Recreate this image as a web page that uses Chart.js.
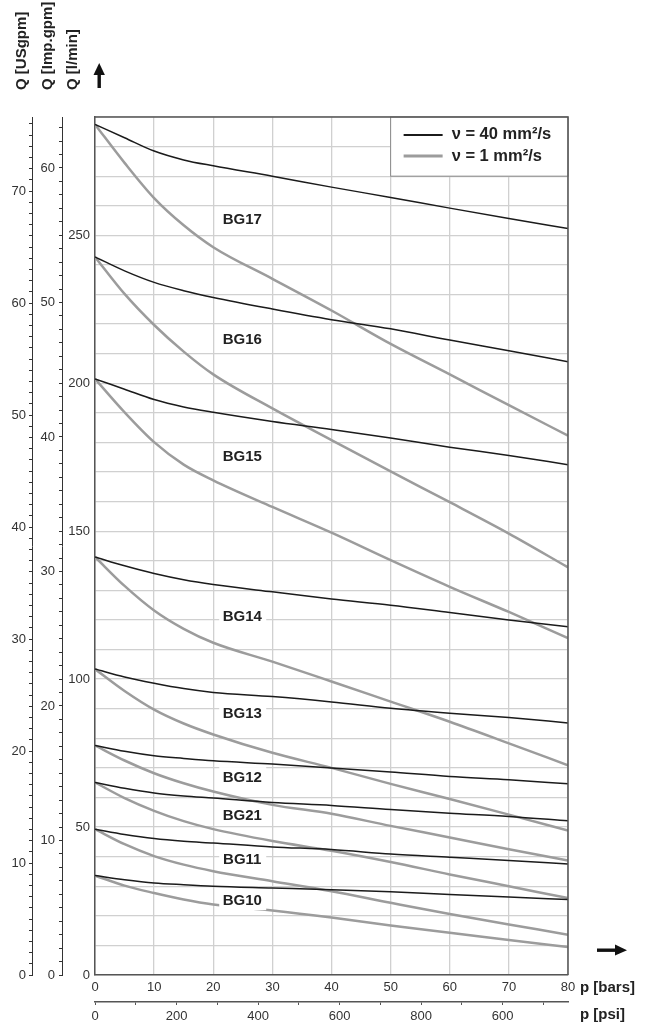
<!DOCTYPE html>
<html>
<head>
<meta charset="utf-8">
<script src="https://cdn.jsdelivr.net/npm/chart.js@4.4.0/dist/chart.umd.min.js"></script>
<style>
  html, body { margin: 0; padding: 0; background: #fff; }
  #wrap { width: 664px; height: 1029px; position: relative; }
</style>
</head>
<body>
<div id="wrap"><canvas id="c"></canvas></div>
<script>
// pressure points in bar, flow in l/min
const pressure = [0, 5, 10, 15, 20, 30, 40, 50, 60, 70, 80];

// v = 40 mm2/s (black)
const bg17Thick = [287.5, 283.0, 278.5, 275.5, 273.5, 270.0, 266.3, 262.8, 259.2, 255.7, 252.3];
const bg16Thick = [242.7, 238.0, 234.1, 231.3, 229.0, 225.1, 221.5, 218.4, 214.6, 211.0, 207.3];
const bg15Thick = [201.5, 198.0, 194.5, 192.0, 190.2, 187.1, 184.4, 181.5, 178.4, 175.6, 172.5];
const bg14Thick = [141.3, 138.3, 135.7, 133.6, 132.0, 129.5, 127.1, 125.0, 122.5, 120.0, 117.7];
const bg13Thick = [103.4, 100.7, 98.6, 96.8, 95.5, 94.1, 92.3, 90.2, 88.5, 87.0, 85.2];
const bg12Thick = [77.6, 75.6, 74.1, 73.2, 72.4, 71.3, 70.0, 68.6, 67.1, 66.0, 64.6];
const bg21Thick = [65.1, 63.1, 61.5, 60.5, 59.8, 58.3, 57.3, 55.9, 54.7, 53.6, 52.1];
const bg11Thick = [49.3, 47.5, 46.1, 45.2, 44.6, 43.3, 42.4, 40.9, 39.8, 38.7, 37.5];
const bg10Thick = [33.6, 32.2, 31.1, 30.5, 30.0, 29.4, 28.8, 28.1, 27.2, 26.4, 25.5];

// v = 1 mm2/s (grey)
const bg17Thin = [287.5, 274.5, 262.6, 253.4, 246.0, 235.3, 224.6, 213.3, 203.0, 192.6, 182.3];
const bg16Thin = [242.7, 230.2, 219.7, 210.7, 203.0, 191.5, 180.8, 170.2, 159.8, 149.2, 137.8];
const bg15Thin = [201.5, 190.2, 180.1, 172.5, 167.2, 158.2, 149.5, 140.2, 131.2, 122.7, 113.9];
const bg14Thin = [141.3, 131.5, 123.2, 117.0, 112.3, 105.9, 99.2, 92.4, 85.6, 78.3, 70.9];
const bg13Thin = [103.4, 96.0, 89.7, 85.0, 81.3, 75.1, 70.0, 64.6, 59.5, 54.2, 48.8];
const bg12Thin = [77.6, 72.5, 68.2, 64.8, 62.0, 57.5, 54.5, 50.4, 46.5, 42.5, 38.7];
const bg21Thin = [65.1, 59.8, 55.5, 52.0, 49.3, 45.3, 42.0, 38.2, 34.0, 30.0, 26.0];
const bg11Thin = [49.3, 44.2, 40.2, 37.3, 35.1, 31.7, 28.3, 24.4, 20.6, 17.1, 13.6];
const bg10Thin = [33.6, 30.2, 27.7, 25.5, 23.8, 21.8, 19.4, 16.7, 14.3, 11.8, 9.5];

const curveNames = ['BG17', 'BG16', 'BG15', 'BG14', 'BG13', 'BG12', 'BG21', 'BG11', 'BG10'];
const thick = [bg17Thick, bg16Thick, bg15Thick, bg14Thick, bg13Thick, bg12Thick, bg21Thick, bg11Thick, bg10Thick];
const thin = [bg17Thin, bg16Thin, bg15Thin, bg14Thin, bg13Thin, bg12Thin, bg21Thin, bg11Thin, bg10Thin];
// where the curve names sit (bar, l/min)
const labelBar = 24.9;
const labelQ = [255.5, 215.0, 175.5, 121.3, 88.5, 66.9, 54.1, 39.2, 25.3];

const psiLabels = { 0: '0', 200: '200', 400: '400', 600: '600', 800: '800', 1000: '600' };

const Q_MAX = 290;
const L_PER_USG = 3.78541, L_PER_IMP = 4.54609, PSI_PER_BAR = 14.5038;

const FONT = '"Liberation Sans", Arial, Helvetica, sans-serif';
Chart.defaults.font.family = FONT;
Chart.defaults.font.size = 13;
Chart.defaults.color = '#333';

const pts = arr => pressure.map((p, i) => ({ x: p, y: arr[i] }));
const datasets = [];
curveNames.forEach((name, i) => {
  datasets.push({ label: name + ' 40', data: pts(thick[i]), borderColor: '#1b1b1b', borderWidth: 1.5, order: 1 });
  datasets.push({ label: name + ' 1', data: pts(thin[i]), borderColor: '#9c9c9c', borderWidth: 2.5, order: 2 });
});

const steps = (max, step) => { const t = []; for (let v = 0; v <= max + 1e-6; v += step) t.push({ value: v }); return t; };
const gridColor = '#d0d0d0';

const decor = {
  id: 'decor',
  afterDatasetsDraw(chart) {
    const { ctx, chartArea: a, scales: { x, y } } = chart;
    ctx.save();

    // curve names on white boxes
    ctx.font = 'bold 15px ' + FONT;
    ctx.textAlign = 'center';
    ctx.textBaseline = 'middle';
    curveNames.forEach((name, i) => {
      const cx = x.getPixelForValue(labelBar), cy = y.getPixelForValue(labelQ[i]);
      ctx.fillStyle = '#fff';
      ctx.fillRect(cx - 23, cy - 10, 47, 20);
      ctx.fillStyle = '#222';
      ctx.fillText(name, cx, cy + 1);
    });

    // legend box
    const lx = x.getPixelForValue(50), lr = x.getPixelForValue(80);
    const ly = y.getPixelForValue(290), lb = y.getPixelForValue(270);
    ctx.fillStyle = '#fff';
    ctx.fillRect(lx, ly, lr - lx, lb - ly);
    ctx.strokeStyle = '#888';
    ctx.lineWidth = 1;
    ctx.strokeRect(lx, ly, lr - lx, lb - ly);
    ctx.lineWidth = 2; ctx.strokeStyle = '#1b1b1b';
    ctx.beginPath(); ctx.moveTo(lx + 13, ly + 18); ctx.lineTo(lx + 52, ly + 18); ctx.stroke();
    ctx.lineWidth = 3; ctx.strokeStyle = '#9c9c9c';
    ctx.beginPath(); ctx.moveTo(lx + 13, ly + 39); ctx.lineTo(lx + 52, ly + 39); ctx.stroke();
    ctx.font = 'bold 16.5px ' + FONT;
    ctx.textAlign = 'left';
    ctx.fillStyle = '#222';
    ctx.fillText('ν = 40 mm²/s', lx + 61, ly + 17);
    ctx.fillText('ν = 1 mm²/s', lx + 61, ly + 39);

    // frame top / right
    ctx.strokeStyle = '#555';
    ctx.lineWidth = 1.5;
    ctx.beginPath();
    ctx.moveTo(a.left, a.top); ctx.lineTo(a.right, a.top); ctx.lineTo(a.right, a.bottom);
    ctx.stroke();

    // axis titles
    ctx.font = 'bold 15px ' + FONT;
    ctx.fillStyle = '#222';
    ctx.textBaseline = 'alphabetic';
    [['Q [USgpm]', 25.5], ['Q [Imp.gpm]', 52], ['Q [l/min]', 77]].forEach(([t, bx]) => {
      ctx.save();
      ctx.translate(bx, 90);
      ctx.rotate(-Math.PI / 2);
      ctx.fillText(t, 0, 0);
      ctx.restore();
    });
    ctx.textBaseline = 'middle';
    ctx.fillText('p [bars]', 580, 988);
    ctx.fillText('p [psi]', 580, 1015);

    // arrows
    ctx.fillStyle = '#111';
    ctx.fillRect(97.5, 74, 3.4, 14);
    ctx.beginPath(); ctx.moveTo(93.5, 75); ctx.lineTo(104.9, 75); ctx.lineTo(99.2, 63); ctx.closePath(); ctx.fill();
    ctx.fillRect(597, 948.5, 19, 3.4);
    ctx.beginPath(); ctx.moveTo(615, 944.5); ctx.lineTo(615, 955.5); ctx.lineTo(627, 950.2); ctx.closePath(); ctx.fill();

    ctx.restore();
  }
};

new Chart(document.getElementById('c'), {
  type: 'line',
  data: { datasets },
  options: {
    responsive: true,
    maintainAspectRatio: false,
    animation: false,
    layout: { padding: { top: 117, right: 96, left: 0, bottom: 0 } },
    elements: { point: { radius: 0 }, line: { cubicInterpolationMode: 'monotone' } },
    plugins: { legend: { display: false }, tooltip: { enabled: false } },
    scales: {
      x: {
        type: 'linear', position: 'bottom', weight: 0, min: 0, max: 80,
        afterBuildTicks: s => { s.ticks = steps(80, 10); },
        afterFit: s => { s.height = 27; },
        ticks: { padding: 5, maxRotation: 0, autoSkip: false },
        grid: { color: gridColor, lineWidth: 1.3, drawTicks: false },
        border: { color: '#555', width: 1.5 }
      },
      psi: {
        type: 'linear', position: 'bottom', weight: 1, min: 0, max: 80 * PSI_PER_BAR,
        afterBuildTicks: s => { s.ticks = steps(1100, 100); },
        afterFit: s => { s.height = 27; },
        ticks: { padding: 4, maxRotation: 0, autoSkip: false, callback: v => psiLabels[v] || '' },
        grid: { drawOnChartArea: false, tickLength: 3, color: '#555' },
        border: { color: '#555', width: 1.5 }
      },
      y: {
        type: 'linear', position: 'left', weight: 0, min: 0, max: Q_MAX,
        afterBuildTicks: s => { s.ticks = steps(Q_MAX, 10); },
        afterFit: s => { s.width = 33; },
        ticks: { padding: 5, autoSkip: false, callback: v => (v % 50 === 0 && v <= 250 ? v : '') },
        grid: { color: gridColor, lineWidth: 1.3, drawTicks: false },
        border: { color: '#555', width: 1.5 }
      },
      imp: {
        type: 'linear', position: 'left', weight: 1, min: 0, max: Q_MAX / L_PER_IMP,
        afterBuildTicks: s => { s.ticks = steps(63, 1); },
        afterFit: s => { s.width = 30; },
        ticks: { padding: 4, autoSkip: false, callback: v => (v % 10 === 0 ? v : '') },
        grid: { drawOnChartArea: false, tickLength: 3, color: '#333' },
        border: { color: '#333', width: 1 }
      },
      us: {
        type: 'linear', position: 'left', weight: 2, min: 0, max: Q_MAX / L_PER_USG,
        afterBuildTicks: s => { s.ticks = steps(76, 1); },
        afterFit: s => { s.width = 32; },
        ticks: { padding: 3, autoSkip: false, callback: v => (v % 10 === 0 ? v : '') },
        grid: { drawOnChartArea: false, tickLength: 3, color: '#333' },
        border: { color: '#333', width: 1 }
      }
    }
  },
  plugins: [decor]
});
</script>
</body>
</html>
